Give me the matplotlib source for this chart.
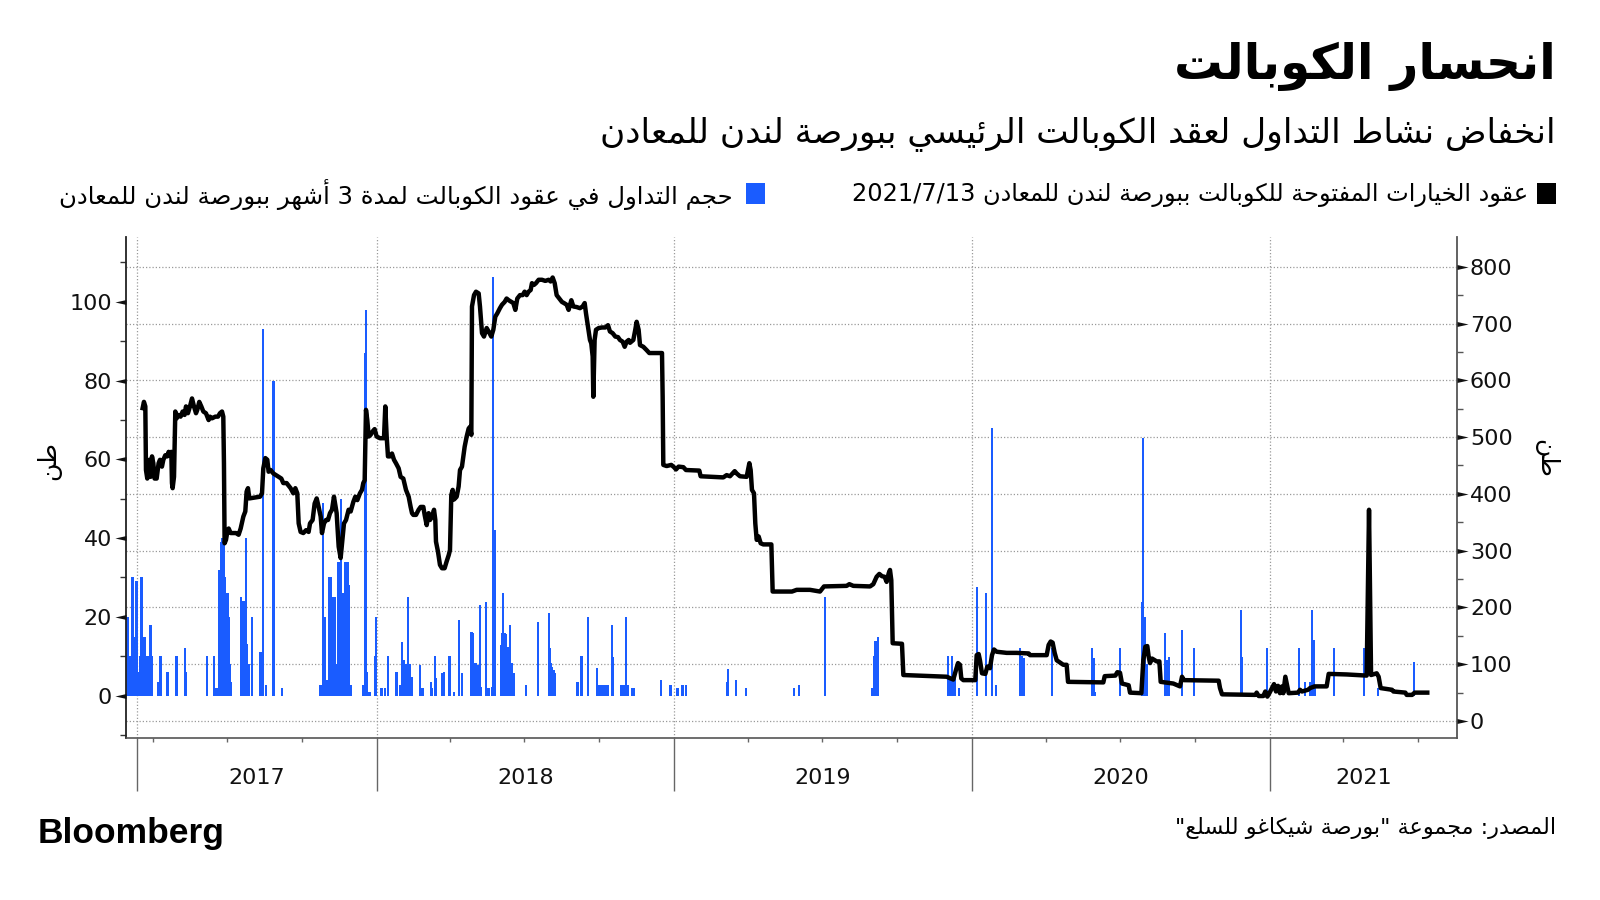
import re

import matplotlib
matplotlib.use("Agg")
import matplotlib.pyplot as plt
import matplotlib.transforms as mtransforms
import numpy as np
import pandas as pd
from matplotlib.patches import Rectangle
from matplotlib.path import Path

START = pd.Timestamp("2017-01-01")

# open options contracts (tonnes, right axis) - days counted from 2017-01-01
oi_day = [
    77.4, 79.0, 80.7, 81.5, 83.1, 85.6, 87.2, 88.9, 90.5, 92.1, 94.6, 97.0, 98.7, 101.1, 102.8,
    105.2, 107.7, 109.3, 111.0, 112.6, 113.4, 114.2, 115.9, 117.5, 119.1, 121.6, 124.0, 126.5,
    128.9, 130.6, 133.0, 135.5, 138.0, 140.4, 142.9, 144.5, 146.9, 149.4, 151.9, 155.1, 158.4,
    160.0, 162.5, 166.6, 169.9, 172.3, 174.8, 176.4, 177.2, 178.0, 179.7, 181.3, 183.0, 185.4,
    192.0, 195.2, 197.7, 201.0, 203.4, 205.0, 206.7, 208.3, 221.4, 223.9, 225.5, 228.0, 230.4,
    232.0, 234.5, 237.8, 241.0, 244.3, 247.6, 250.0, 254.1, 259.0, 262.3, 264.8, 267.2, 268.9,
    271.3, 274.6, 277.9, 281.1, 282.8, 286.0, 288.5, 291.0, 293.4, 295.9, 297.5, 300.0, 302.4,
    304.9, 307.3, 309.8, 312.2, 315.5, 318.0, 320.4, 322.9, 324.5, 327.0, 330.2, 332.7, 336.0,
    338.4, 340.9, 344.1, 346.6, 348.2, 349.9, 350.7, 351.5, 353.1, 354.8, 357.2, 359.7, 362.1,
    364.6, 368.7, 373.6, 375.2, 376.9, 378.5, 381.0, 383.4, 385.9, 388.3, 391.6, 394.0, 397.3,
    400.6, 403.9, 406.3, 408.0, 409.6, 412.9, 416.1, 418.6, 421.9, 423.5, 426.0, 428.4, 430.1,
    432.5, 435.0, 436.6, 437.4, 439.9, 442.3, 444.8, 448.0, 450.5, 453.0, 454.6, 456.2, 457.9,
    459.5, 462.8, 465.2, 466.9, 469.3, 471.0, 472.6, 475.1, 477.5, 479.1, 480.8, 481.6, 484.1,
    486.5, 489.8, 491.4, 493.9, 496.3, 499.6, 502.0, 505.3, 507.8, 510.2, 512.7, 515.9, 518.4,
    521.7, 524.1, 526.6, 529.9, 532.3, 534.8, 537.2, 540.5, 543.8, 546.2, 548.7, 551.1, 553.6,
    555.2, 557.7, 560.1, 563.4, 567.5, 571.6, 575.7, 578.1, 580.6, 583.1, 585.5, 588.8, 592.0,
    594.5, 597.8, 600.2, 603.5, 606.0, 610.0, 614.1, 617.4, 619.9, 621.5, 624.0, 626.4, 628.0,
    629.7, 630.5, 632.1, 633.8, 637.1, 641.1, 645.2, 648.5, 650.9, 654.2, 657.5, 660.8, 663.2,
    666.5, 669.0, 671.4, 673.9, 675.5, 679.6, 682.0, 683.7, 686.1, 687.8, 691.9, 696.0, 699.2,
    714.8, 715.6, 716.4, 720.5, 726.2, 729.5, 732.0, 735.2, 741.0, 744.2, 760.6, 762.2, 790.0,
    794.1, 798.2, 801.5, 804.0, 806.4, 810.5, 818.7, 820.3, 822.0, 823.6, 825.2, 827.7, 829.3,
    831.0, 833.4, 835.9, 839.1, 849.0, 850.6, 874.3, 880.1, 896.4, 908.7, 913.6, 941.4, 944.7,
    949.6, 970.1, 974.1, 978.2, 981.5, 984.8, 988.0, 990.5, 993.0, 994.6, 996.2, 997.9, 1009.3,
    1011.0, 1064.1, 1069.0, 1072.3, 1075.6, 1078.1, 1080.5, 1082.1, 1084.6, 1099.3, 1101.0,
    1103.4, 1105.0, 1107.5, 1111.6, 1114.1, 1117.3, 1119.8, 1122.2, 1125.5, 1137.8, 1150.1,
    1164.8, 1166.4, 1186.9, 1189.3, 1191.8, 1194.2, 1196.7, 1199.2, 1207.3, 1211.4, 1213.1,
    1256.4, 1258.1, 1271.2, 1273.6, 1276.9, 1279.3, 1287.5, 1289.2, 1303.1, 1305.5, 1308.0,
    1310.4, 1312.1, 1313.7, 1316.2, 1321.9, 1325.2, 1326.8, 1342.3, 1350.5, 1353.0, 1355.4,
    1398.0, 1399.6, 1402.1, 1443.0, 1444.6, 1447.1, 1452.8, 1455.2, 1457.7, 1460.2, 1463.4,
    1465.9, 1468.3, 1470.8, 1473.2, 1475.7, 1477.3, 1479.8, 1482.2, 1483.9, 1495.3, 1497.8,
    1500.2, 1507.6, 1510.1, 1515.8, 1530.5, 1533.0, 1555.1, 1579.6, 1582.5, 1585.0, 1591.9,
    1594.3, 1596.8, 1610.7, 1612.4, 1627.1, 1628.7, 1635.3, 1638.5, 1654.0,
]
oi_tonnes = [
    551, 562, 554, 442, 427, 460, 430, 466, 454, 427, 427, 454, 460, 448, 460,
    468, 466, 474, 468, 474, 419, 410, 430, 545, 533, 539, 536, 545,
    539, 554, 542, 554, 568, 554, 542, 548, 562, 554, 545, 542, 530,
    536, 533, 536, 536, 542, 545, 536, 454, 313, 319, 333, 339, 331,
    331, 328, 339, 360, 369, 404, 410, 392, 395, 401, 445, 463, 460,
    439, 442, 436, 433, 430, 427, 419, 419, 410, 401, 410, 401, 348,
    333, 331, 336, 333, 348, 354, 383, 392, 377, 360, 331, 348, 354,
    354, 366, 372, 395, 366, 307, 287, 325, 348, 354, 372, 369, 386,
    395, 389, 401, 407, 419, 424, 489, 548, 530, 501, 504, 510, 514,
    501, 498, 498, 554, 501, 466, 466, 471, 460, 454, 445, 430, 427,
    407, 395, 377, 366, 363, 363, 372, 377, 377, 363, 345, 366, 354,
    360, 372, 354, 316, 298, 275, 269, 269, 281, 292, 301, 398, 407,
    390, 395, 413, 442, 448, 466, 483, 501, 515, 518, 504, 730, 750,
    756, 753, 730, 683, 677, 692, 686, 677, 689, 712, 718, 727, 733,
    738, 744, 741, 738, 736, 724, 744, 750, 750, 756, 750, 756, 759,
    771, 768, 771, 777, 777, 775, 777, 774, 781, 771, 750, 744, 738,
    736, 733, 724, 741, 730, 729, 727, 730, 736, 718, 694, 671, 665,
    642, 571, 671, 689, 692, 693, 693, 697, 686, 683, 677, 676, 671,
    668, 659, 668, 671, 666, 671, 689, 703, 689, 662, 659, 653, 648,
    648, 571, 451, 449, 451, 447, 443, 448, 447, 442, 441, 431, 429,
    433, 431, 436, 440, 436, 431, 430, 442, 454, 442, 407, 401, 348,
    319, 325, 313, 311, 311, 228, 228, 231, 231, 228, 237, 238, 241,
    238, 237, 241, 254, 259, 255, 254, 245, 260, 266, 248, 137, 136,
    81, 78, 75, 73, 90, 102, 99, 75, 72, 72, 116,
    118, 107, 84, 83, 96, 93, 116, 126, 122, 120, 120,
    119, 116, 116, 134, 140, 138, 120, 107, 99, 99, 69,
    68, 79, 80, 86, 85, 66, 63, 50, 49, 107, 131,
    132, 113, 102, 110, 105, 105, 69, 66, 61, 78, 72,
    71, 58, 47, 46, 50, 44, 44, 52, 43, 49, 58,
    65, 52, 62, 49, 61, 49, 78, 61, 49, 50, 55,
    52, 55, 58, 61, 61, 83, 82, 80, 372, 81, 84,
    78, 58, 55, 52, 50, 46, 46, 50, 50,
]

# 3-month contract trading volume (tonnes, left axis) - days counted from 2017-01-01
vol_day = [
    58, 59, 60, 61, 62, 63, 64, 65, 66, 67, 68, 69, 70, 71, 72, 73,
    74, 75, 76, 77, 78, 79, 80, 81, 82, 83, 84, 85, 86, 87, 88, 89,
    96, 97, 99, 100, 107, 108, 118, 119, 129, 130, 156, 165, 167, 168, 169, 170,
    171, 172, 173, 174, 175, 176, 177, 178, 179, 180, 181, 182, 183, 184, 185, 186,
    198, 199, 200, 201, 202, 204, 206, 207, 208, 212, 222, 223, 225, 229, 238, 248,
    295, 296, 297, 298, 299, 300, 301, 302, 303, 304, 305, 306, 307, 308, 309, 310,
    311, 312, 313, 314, 315, 316, 317, 318, 319, 320, 321, 322, 323, 324, 325, 326,
    327, 328, 329, 330, 331, 332, 333,
    348, 350, 351, 353, 354, 355, 356, 362, 364, 370, 371, 375, 378, 388, 389, 393, 396, 398,
    400, 401, 403, 405, 408, 418, 420, 421, 431, 433, 436, 438, 445, 447, 453, 455, 459, 466,
    469, 481, 482, 483, 485, 487, 489, 491, 493, 499, 501, 503, 506, 507, 509, 510, 517, 518,
    520, 521, 522, 523, 525, 526, 528, 529, 530, 531, 533, 548, 563, 576, 577, 579, 580, 582,
    584, 611, 612, 616, 624, 635, 636, 637, 638, 639, 640, 641, 642, 643, 644, 645, 646, 647,
    648, 653, 655, 665, 666, 667, 668, 669, 670, 671, 672, 673, 678, 680, 713, 725, 726, 733,
    735, 739, 741, 744, 794, 796, 806, 818, 877, 883, 915, 973, 974, 975, 976, 977, 978, 980,
    1066, 1067, 1069, 1071, 1072, 1074, 1079, 1101, 1113, 1120, 1125, 1154, 1156, 1157, 1159,
    1193, 1242, 1243, 1245, 1246, 1277, 1304, 1305, 1307, 1308, 1310, 1332, 1334, 1336, 1337,
    1353, 1368, 1425, 1427, 1457, 1496, 1504, 1510, 1512, 1513, 1515, 1516, 1539, 1576, 1594,
    1638,
]
vol_tonnes = [
    20, 20, 20, 10, 10, 10, 30, 30, 30, 15, 15, 29, 29, 29, 6, 6,
    10, 10, 30, 30, 15, 15, 15, 4, 4, 10, 10, 10, 18, 18, 18, 10,
    3.6, 3.6, 10, 10, 6, 6, 10, 10, 12, 6, 10, 10, 2, 2, 2, 2,
    32, 32, 34, 39, 40, 40, 39, 30, 30, 26, 26, 26, 20, 8, 3.5, 3.5,
    25, 24, 24, 24, 24, 40, 13, 8, 8, 20, 11, 11, 93, 2.7, 80, 1.9,
    2.7, 2.7, 2.7, 2.7, 49, 20, 20, 4, 4, 4, 4, 30, 30, 30, 30, 25,
    25, 25, 25, 25, 8, 8, 34, 34, 34, 14, 50, 26, 26, 26, 8, 34,
    34, 34, 34, 28, 28, 2.7, 2.7,
    2.7, 87, 98, 6, 1, 1, 1, 10, 20, 2, 2, 2, 10, 6, 6, 2.7, 13.7, 9,
    8, 8, 25, 8, 4.8, 7.8, 1.9, 1.9, 3.6, 1.9, 10, 4.4, 5.7, 6, 10, 10, 1, 19.2,
    5.7, 16.2, 16, 16, 8.2, 8.2, 7.8, 23, 2.3, 23.9, 1.9, 1.9, 2.3, 106.3, 42, 42, 12.9, 15.8,
    26, 16, 16, 15.6, 8.2, 12.4, 17.9, 8.2, 8.2, 8.2, 5.7, 2.7, 18.8, 20.9, 12, 8.2, 7.4, 6.5,
    5.7, 3.6, 3.6, 10, 20, 7, 2.7, 2.7, 2.7, 2.7, 2.7, 2.7, 2.7, 2.7, 2.7, 2.7, 2.7, 2.7,
    2.7, 17.9, 9.9, 2.7, 2.7, 2.7, 2.7, 2.7, 2.7, 20, 2.7, 2.7, 1.9, 1.9, 4, 2.7, 2.7, 1.9,
    1.9, 2.7, 2.7, 2.7, 3.6, 6.9, 4, 1.9, 1.9, 2.7, 25.1, 2, 2, 10, 14, 14, 2, 15,
    10, 4.4, 4, 10, 5.7, 4.4, 1.9, 27.7, 26, 67.9, 2.7, 12, 5.7, 10, 9.5,
    12, 12, 10, 9.5, 1, 12, 23.9, 65.3, 20, 10.7, 8, 15.8, 9, 8, 9.9,
    16.7, 12, 21.7, 9.9, 12, 12, 3.6, 3.6, 21.7, 15, 14.1, 2.3, 12, 12, 1.9,
    8.6,
]
assert len(oi_day) == len(oi_tonnes) and len(vol_day) == len(vol_tonnes)

year_labels = ["2017", "2018", "2019", "2020", "2021"]
year_sep_days = [70.1, 365, 730, 1095, 1461]
x_end_day = 1690.1
x_start_day = 57.6
quarter_starts = ["2017-04-01", "2017-07-01", "2017-10-01", "2018-04-01", "2018-07-01",
                  "2018-10-01", "2019-04-01", "2019-07-01", "2019-10-01", "2020-04-01",
                  "2020-07-01", "2020-10-01", "2021-04-01", "2021-07-01"]
left_ticks = [0, 20, 40, 60, 80, 100]
right_ticks = [0, 100, 200, 300, 400, 500, 600, 700, 800]

TITLE = "انحسار الكوبالت"
SUBTITLE = "انخفاض نشاط التداول لعقد الكوبالت الرئيسي ببورصة لندن للمعادن"
LEGEND_LINE = "عقود الخيارات المفتوحة للكوبالت ببورصة لندن للمعادن 2021/7/13"
LEGEND_BARS = "حجم التداول في عقود الكوبالت لمدة 3 أشهر ببورصة لندن للمعادن"
SOURCE = 'المصدر: مجموعة "بورصة شيكاغو للسلع"'
UNIT = "طن"

BLUE = "#1a5cff"
GRID = "#9a9a9a"

# --- minimal Arabic shaping + right-to-left ordering (matplotlib has no bidi) ---
DUAL = {"ئ": 0xFE89, "ب": 0xFE8F, "ت": 0xFE95, "ث": 0xFE99, "ج": 0xFE9D, "ح": 0xFEA1,
        "خ": 0xFEA5, "س": 0xFEB1, "ش": 0xFEB5, "ص": 0xFEB9, "ض": 0xFEBD, "ط": 0xFEC1,
        "ظ": 0xFEC5, "ع": 0xFEC9, "غ": 0xFECD, "ف": 0xFED1, "ق": 0xFED5, "ك": 0xFED9,
        "ل": 0xFEDD, "م": 0xFEE1, "ن": 0xFEE5, "ه": 0xFEE9, "ي": 0xFEF1}
RIGHT = {"آ": 0xFE81, "أ": 0xFE83, "ؤ": 0xFE85, "إ": 0xFE87, "ا": 0xFE8D, "ة": 0xFE93,
         "د": 0xFEA9, "ذ": 0xFEAB, "ر": 0xFEAD, "ز": 0xFEAF, "و": 0xFEED, "ى": 0xFEEF}
LAM_ALEF = {"آ": 0xFEF5, "أ": 0xFEF7, "إ": 0xFEF9, "ا": 0xFEFB}
LTR_RUN = r"([0-9A-Za-z]+(?:[/.][0-9A-Za-z]+)*)"


def ar(text):
    items = []
    i = 0
    while i < len(text):
        c = text[i]
        if c == "ل" and i + 1 < len(text) and text[i + 1] in LAM_ALEF:
            items.append(("R", LAM_ALEF[text[i + 1]]))
            i += 2
            continue
        if c in DUAL:
            items.append(("D", DUAL[c]))
        elif c in RIGHT:
            items.append(("R", RIGHT[c]))
        else:
            items.append(("U", c))
        i += 1
    out = []
    for k, (kind, base) in enumerate(items):
        if kind == "U":
            out.append(base)
            continue
        prev_j = k > 0 and items[k - 1][0] == "D"
        next_j = kind == "D" and k + 1 < len(items) and items[k + 1][0] in ("D", "R")
        if kind == "R":
            off = 1 if prev_j else 0
        else:
            off = {(False, False): 0, (True, False): 1, (False, True): 2, (True, True): 3}[(prev_j, next_j)]
        out.append(chr(base + off))
    runs = re.split(LTR_RUN, "".join(out))
    visual = []
    for idx in range(len(runs) - 1, -1, -1):
        visual.append(runs[idx] if idx % 2 else runs[idx][::-1])
    return "".join(visual)


def days_to_dates(days):
    return START + pd.to_timedelta(np.asarray(days, dtype=float), unit="D")


fig = plt.figure(figsize=(16, 9), dpi=100)
W, H = 1600.0, 900.0
L, R, T, B = 126.5, 1456.7, 237.3, 738.0
ax = fig.add_axes([L / W, 1 - B / H, (R - L) / W, (B - T) / H])
ax2 = ax.twinx()

x0, x1 = days_to_dates([x_start_day, x_end_day])
ax.set_xlim(x0, x1)
ax.set_ylim(-10.74, 116.35)
ax2.set_ylim(-29.9, 851.8)

# grid (right-axis levels, drawn underneath the bars)
hgrid = mtransforms.blended_transform_factory(ax.transAxes, ax2.transData)
for v in right_ticks:
    ax.plot([0, 1], [v, v], transform=hgrid, color=GRID, lw=0.9, ls=(0, (1, 1.6)), zorder=0)
for d in days_to_dates(year_sep_days):
    ax.axvline(d, color=GRID, lw=0.9, ls=(0, (1, 1.6)), zorder=0)

ax.bar(days_to_dates(vol_day), vol_tonnes, width=2.5, color=BLUE, linewidth=0, zorder=2)
ax2.plot(days_to_dates(oi_day), oi_tonnes, color="black", lw=3.2, solid_joinstyle="round", zorder=3)

# spines
for s in ("top", "right"):
    ax.spines[s].set_visible(False)
for s in ("top", "left", "bottom"):
    ax2.spines[s].set_visible(False)
ax.spines["left"].set_color("#222222")
ax.spines["left"].set_linewidth(1.3)
ax.spines["bottom"].set_color("#555555")
ax.spines["bottom"].set_linewidth(1.2)
ax2.spines["right"].set_color("#555555")
ax2.spines["right"].set_linewidth(1.3)

# x axis: long separators at year starts, short ticks at quarters
ax.set_xticks(days_to_dates(year_sep_days))
ax.set_xticks(pd.to_datetime(quarter_starts), minor=True)
ax.tick_params(axis="x", which="major", length=38, width=1.0, color="#666666", labelbottom=False)
ax.tick_params(axis="x", which="minor", length=3, width=1.0, color="#666666", labelbottom=False)
xlab = mtransforms.blended_transform_factory(ax.transData, ax.transAxes)
bounds = list(year_sep_days) + [x_end_day]
for k, lab in enumerate(year_labels):
    mid = days_to_dates([(bounds[k] + bounds[k + 1]) / 2])[0]
    ax.text(mid, -0.08, lab, transform=xlab, ha="center", va="center",
            fontsize=16, family="DejaVu Sans", color="#111111")

# y axes
ax.set_yticks(left_ticks)
ax.set_yticks([-10, 10, 30, 50, 70, 90, 110], minor=True)
ax.tick_params(axis="y", which="major", length=0, pad=10.5, labelsize=16, labelcolor="#111111")
ax.tick_params(axis="y", which="minor", length=4, width=1.0, color="#333333")
ax2.set_yticks(right_ticks)
ax2.set_yticks([50, 150, 250, 350, 450, 550, 650, 750], minor=True)
ax2.tick_params(axis="y", which="major", length=0, pad=9.5, labelsize=16, labelcolor="#111111")
ax2.tick_params(axis="y", which="minor", length=4, width=1.0, color="#555555")
for lab in ax.get_yticklabels() + ax2.get_yticklabels():
    lab.set_family("DejaVu Sans")

tri_left = Path([(0, 0.22), (-1, 0), (0, -0.22), (0, 0.22)],
                [Path.MOVETO, Path.LINETO, Path.LINETO, Path.CLOSEPOLY])
tri_right = Path([(0, 0.22), (1, 0), (0, -0.22), (0, 0.22)],
                 [Path.MOVETO, Path.LINETO, Path.LINETO, Path.CLOSEPOLY])
ax.plot(np.zeros(len(left_ticks)), left_ticks, ls="none", marker=tri_left, ms=16, mew=0,
        color="#111111", clip_on=False, zorder=6,
        transform=mtransforms.blended_transform_factory(ax.transAxes, ax.transData))
ax2.plot(np.ones(len(right_ticks)), right_ticks, ls="none", marker=tri_right, ms=16, mew=0,
         color="#111111", clip_on=False, zorder=6,
         transform=mtransforms.blended_transform_factory(ax2.transAxes, ax2.transData))

# texts
AR_FONT = "DejaVu Sans"
renderer = fig.canvas.get_renderer()


def fit(t, target_px):
    w = t.get_window_extent(renderer).width
    t.set_fontsize(t.get_fontsize() * target_px / w)
    return t


fit(fig.text(1556 / W, 1 - 66 / H, ar(TITLE), ha="right", va="center", family=AR_FONT,
             fontweight="bold", fontsize=30), 382)
fit(fig.text(1556 / W, 1 - 134 / H, ar(SUBTITLE), ha="right", va="center", family=AR_FONT,
             fontsize=22), 957)
fit(fig.text(1528 / W, 1 - 195 / H, ar(LEGEND_LINE), ha="right", va="center", family=AR_FONT,
             fontsize=16), 677)
fit(fig.text(733 / W, 1 - 195 / H, ar(LEGEND_BARS), ha="right", va="center", family=AR_FONT,
             fontsize=16), 675)
fig.patches.append(Rectangle((1537 / W, 1 - 204 / H), 19 / W, 21 / H, transform=fig.transFigure,
                             color="black", linewidth=0))
fig.patches.append(Rectangle((746 / W, 1 - 204 / H), 19 / W, 21 / H, transform=fig.transFigure,
                             color=BLUE, linewidth=0))
fit(fig.text(1556 / W, 1 - 828 / H, ar(SOURCE), ha="right", va="center", family=AR_FONT,
             fontsize=16), 382)
fit(fig.text(38 / W, 1 - 833 / H, "Bloomberg", ha="left", va="center", family="Liberation Sans",
             fontweight="bold", fontsize=24), 187)
fit(fig.text(49 / W, 1 - 461 / H, ar(UNIT), ha="center", va="center", family=AR_FONT,
             rotation=90, fontsize=18), 25)
fit(fig.text(1546 / W, 1 - 458 / H, ar(UNIT), ha="center", va="center", family=AR_FONT,
             rotation=270, fontsize=18), 25)

fig.savefig("out.png", dpi=100, facecolor="white")
